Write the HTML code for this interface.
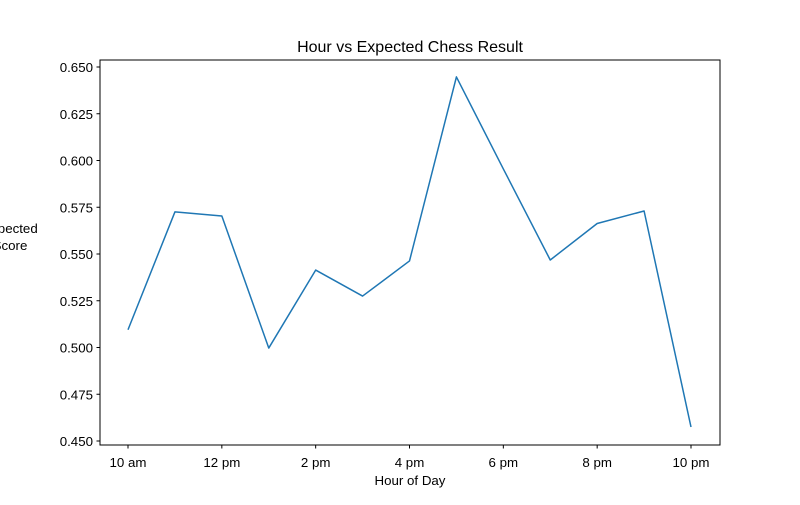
<!DOCTYPE html>
<html><head><meta charset="utf-8"><style>
body{margin:0;background:#fff;}
svg text{font-family:"Liberation Sans","DejaVu Sans",sans-serif;fill:#000;}
</style></head><body>
<svg id="chart" width="800" height="500" viewBox="0 0 800 500" xmlns="http://www.w3.org/2000/svg">
<rect width="800" height="500" fill="#fff"/>
<text x="410" y="52" font-size="16" text-anchor="middle">Hour vs Expected Chess Result</text>
<text x="410" y="485" font-size="13.3" text-anchor="middle">Hour of Day</text>
<text x="10" y="233" font-size="13.3" text-anchor="middle"><tspan x="10">Expected</tspan><tspan x="10" dy="17">Score</tspan></text>
<g id="ticks"></g>
<path id="line" fill="none" stroke="#1f77b4" stroke-width="1.5" stroke-linejoin="round"/>
<rect x="100" y="60" width="620" height="385" fill="none" stroke="#000" stroke-width="1"/>
</svg>
<script>
const hours = [10,11,12,13,14,15,16,17,18,19,20,21,22];
const scores = [0.5095,0.5725,0.5703,0.4997,0.5414,0.5275,0.5463,0.6447,0.5955,0.5468,0.5663,0.5730,0.4575];
const xTickHours = [10,12,14,16,18,20,22];
const xTickLabels = ["10 am","12 pm","2 pm","4 pm","6 pm","8 pm","10 pm"];
const yTicks = [0.450,0.475,0.500,0.525,0.550,0.575,0.600,0.625,0.650];
function xs(h){return 128+(h-10)*(691-128)/12;}
function ys(v){return 441-(v-0.45)/0.2*374;}
const ns="http://www.w3.org/2000/svg";
const g=document.getElementById('ticks');
xTickHours.forEach((h,i)=>{
 const l=document.createElementNS(ns,'line');
 
 
 l.setAttribute('x1',xs(h));l.setAttribute('x2',xs(h));l.setAttribute('y1',445);l.setAttribute('y2',448.5);l.setAttribute('stroke','#000');
 g.appendChild(l);
 const t=document.createElementNS(ns,'text');
 
 
 t.setAttribute('x',xs(h));t.setAttribute('y',467);t.setAttribute('font-size','13.3');t.setAttribute('text-anchor','middle');
 t.textContent=xTickLabels[i];g.appendChild(t);
});
yTicks.forEach(v=>{
 const l=document.createElementNS(ns,'line');
 
 
 l.setAttribute('x1',96.5);l.setAttribute('x2',100);l.setAttribute('y1',ys(v));l.setAttribute('y2',ys(v));l.setAttribute('stroke','#000');
 g.appendChild(l);
 const t=document.createElementNS(ns,'text');
 
 
 t.setAttribute('x',93);t.setAttribute('y',ys(v)+5);t.setAttribute('font-size','13.3');t.setAttribute('text-anchor','end');
 t.textContent=v.toFixed(3);g.appendChild(t);
});
document.getElementById('line').setAttribute('d',hours.map((h,i)=>(i?'L':'M')+xs(h)+','+ys(scores[i])).join(' '));
</script>
</body></html>
